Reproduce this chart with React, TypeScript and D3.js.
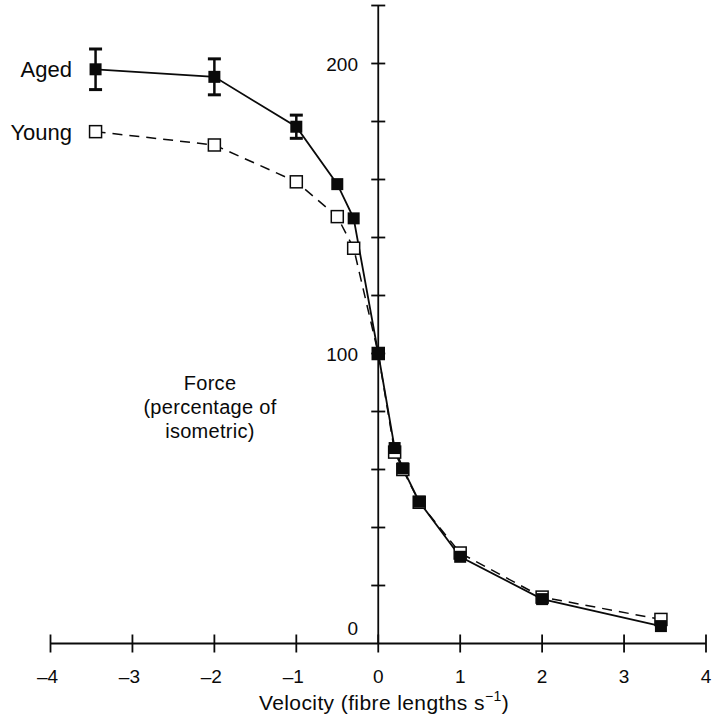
import React, { useRef, useEffect } from 'react';
import * as d3 from 'd3';

// velocities (fibre lengths s-1)
const velocity = [-3.45, -2, -1, -0.5, -0.3, 0, 0.2, 0.3, 0.5, 1, 2, 3.45];
// force, percentage of isometric
const agedForce = [198, 195.4, 178.2, 158.4, 146.6, 100, 67.4, 60.4, 48.9, 29.9, 15.3, 6];
const youngForce = [176.5, 171.9, 159.2, 147.2, 136.3, 100, 66, 60, 48.7, 31.2, 16, 8.3];
// standard errors for aged (only shown where bigger than the marker)
const agedErr = [7, 6.2, 4, 0, 0, 0, 0, 0, 0, 0, 0, 0];

const xTicks = [-4, -3, -2, -1, 0, 1, 2, 3, 4];
const yTicks = [0, 20, 40, 60, 80, 100, 120, 140, 160, 180, 200, 220];
const yLabels = [0, 100, 200];

const FONT = '"Liberation Sans", Arial, sans-serif';
const INK = '#0a0a0a';

const App = () => {
  const ref = useRef<SVGSVGElement | null>(null);

  useEffect(() => {
    if (!ref.current) return;
    const svg = d3.select(ref.current);
    svg.selectAll('*').remove();

    const x = d3.scaleLinear().domain([-4, 4]).range([50.5, 706]);
    const y = d3.scaleLinear().domain([0, 220]).range([643.5, 5.5]);

    const g = svg.append('g');

    // x axis
    g.append('line')
      .attr('x1', x(-4)).attr('x2', x(4))
      .attr('y1', y(0)).attr('y2', y(0))
      .attr('stroke', INK).attr('stroke-width', 1.8);
    xTicks.forEach(t => {
      g.append('line')
        .attr('x1', x(t)).attr('x2', x(t))
        .attr('y1', y(0) - 9).attr('y2', y(0) + 9)
        .attr('stroke', INK).attr('stroke-width', 1.8);
      g.append('text')
        .attr('x', x(t) + (t < 0 ? -3 : 0))
        .attr('y', 683)
        .attr('text-anchor', 'middle')
        .attr('font-family', FONT)
        .attr('font-size', 19)
        .attr('fill', INK)
        .text(t < 0 ? `\u2013${-t}` : `${t}`);
    });

    // y axis
    g.append('line')
      .attr('x1', x(0)).attr('x2', x(0))
      .attr('y1', y(0)).attr('y2', y(220))
      .attr('stroke', INK).attr('stroke-width', 1.8);
    yTicks.forEach(t => {
      if (t === 0) return;
      g.append('line')
        .attr('x1', x(0) - 7).attr('x2', x(0) + 7)
        .attr('y1', y(t)).attr('y2', y(t))
        .attr('stroke', INK).attr('stroke-width', 1.8);
    });
    yLabels.forEach(t => {
      g.append('text')
        .attr('x', 358)
        .attr('y', t === 0 ? 635 : y(t) + 7)
        .attr('text-anchor', 'end')
        .attr('font-family', FONT)
        .attr('font-size', 19)
        .attr('fill', INK)
        .text(`${t}`);
    });

    // axis titles
    const yTitle = g.append('text')
      .attr('font-family', FONT)
      .attr('font-size', 20)
      .attr('letter-spacing', 0.3)
      .attr('fill', INK)
      .attr('text-anchor', 'middle');
    ['Force', '(percentage of', 'isometric)'].forEach((s, i) => {
      yTitle.append('tspan').attr('x', 210).attr('y', 390 + i * 24).text(s);
    });

    const xTitle = g.append('text')
      .attr('x', 384).attr('y', 710)
      .attr('text-anchor', 'middle')
      .attr('font-family', FONT)
      .attr('font-size', 21)
      .attr('letter-spacing', 0.4)
      .attr('fill', INK);
    xTitle.append('tspan').text('Velocity (fibre lengths s');
    xTitle.append('tspan').attr('dy', -9).attr('font-size', 14).text('\u22121');
    xTitle.append('tspan').attr('dy', 9).text(')');

    const line = d3.line<number>()
      .x((_, i) => x(velocity[i]))
      .y(d => y(d));

    // young (dashed, open squares)
    g.append('path')
      .datum(youngForce)
      .attr('fill', 'none')
      .attr('stroke', INK)
      .attr('stroke-width', 1.5)
      .attr('stroke-dasharray', '10,7')
      .attr('d', line);

    // aged (solid)
    g.append('path')
      .datum(agedForce)
      .attr('fill', 'none')
      .attr('stroke', INK)
      .attr('stroke-width', 1.8)
      .attr('d', line);

    const sz = 12;
    g.selectAll('rect.young')
      .data(youngForce)
      .join('rect')
      .attr('class', 'young')
      .attr('x', (_, i) => x(velocity[i]) - sz / 2)
      .attr('y', d => y(d) - sz / 2)
      .attr('width', sz).attr('height', sz)
      .attr('fill', '#fff')
      .attr('stroke', INK)
      .attr('stroke-width', 1.5);

    // error bars
    agedForce.forEach((d, i) => {
      const e = agedErr[i];
      if (!e) return;
      const cx = x(velocity[i]);
      g.append('line')
        .attr('x1', cx).attr('x2', cx)
        .attr('y1', y(d + e)).attr('y2', y(d - e))
        .attr('stroke', INK).attr('stroke-width', 2.5);
      [d + e, d - e].forEach(v => {
        g.append('line')
          .attr('x1', cx - 6.5).attr('x2', cx + 6.5)
          .attr('y1', y(v)).attr('y2', y(v))
          .attr('stroke', INK).attr('stroke-width', 3);
      });
    });

    g.selectAll('rect.aged')
      .data(agedForce)
      .join('rect')
      .attr('class', 'aged')
      .attr('x', (_, i) => x(velocity[i]) - sz / 2)
      .attr('y', d => y(d) - sz / 2)
      .attr('width', sz).attr('height', sz)
      .attr('fill', INK);

    // series labels
    g.append('text')
      .attr('x', 72).attr('y', 77)
      .attr('text-anchor', 'end')
      .attr('font-family', FONT)
      .attr('font-size', 22)
      .attr('fill', INK)
      .text('Aged');
    g.append('text')
      .attr('x', 72).attr('y', 140)
      .attr('text-anchor', 'end')
      .attr('font-family', FONT)
      .attr('font-size', 22)
      .attr('fill', INK)
      .text('Young');
  }, []);

  return (
    <svg
      ref={ref}
      width={712}
      height={719}
      style={{ position: 'absolute', left: 0, top: 0, background: '#fff' }}
    />
  );
};

export default App;
